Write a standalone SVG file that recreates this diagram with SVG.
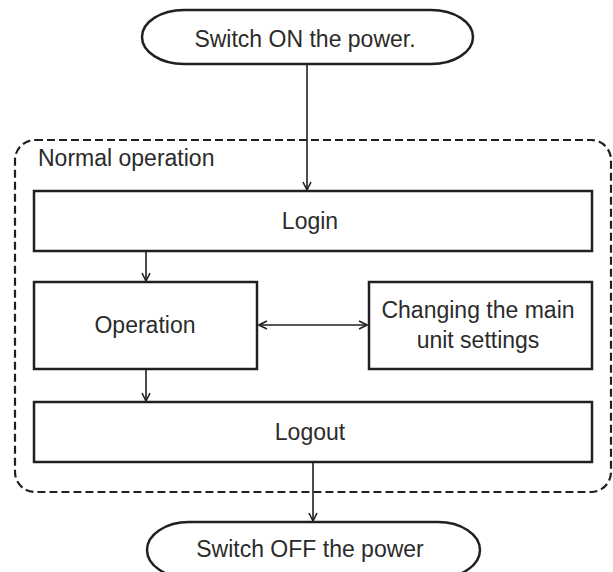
<svg xmlns="http://www.w3.org/2000/svg" width="613" height="572" viewBox="0 0 613 572">
<style>
.box{fill:#fff;stroke:#231f20;stroke-width:2.5}
.term{fill:#fff;stroke:#231f20;stroke-width:2.5}
.grp{fill:none;stroke:#231f20;stroke-width:2.2;stroke-dasharray:8 4}
.lbl{font-family:"Liberation Sans",Arial,sans-serif;font-size:23px;fill:#2b2b2b;text-anchor:middle}
.conn{stroke:#231f20;stroke-width:1.6;fill:none}
</style>
<defs>
<marker id="ah" viewBox="0 0 10 10" refX="9" refY="5" markerWidth="10" markerHeight="10" markerUnits="userSpaceOnUse" orient="auto-start-reverse">
<path d="M1,1 L9,5 L1,9" fill="none" stroke="#231f20" stroke-width="1.6"/>
</marker>
</defs>
<g id="normal-operation">
<rect class="grp" x="15" y="140" width="596" height="352" rx="20" ry="20"/>
<text class="lbl" x="38" y="166" style="text-anchor:start">Normal operation</text>
</g>
<g id="connectors">
<line class="conn" x1="307" y1="64" x2="307" y2="190" marker-end="url(#ah)"/>
<line class="conn" x1="146" y1="252" x2="146" y2="281" marker-end="url(#ah)"/>
<line class="conn" x1="259" y1="325" x2="367" y2="325" marker-start="url(#ah)" marker-end="url(#ah)"/>
<line class="conn" x1="146" y1="370" x2="146" y2="401" marker-end="url(#ah)"/>
<line class="conn" x1="313" y1="463" x2="313" y2="521" marker-end="url(#ah)"/>
</g>
<g id="power-on">
<rect class="term" x="142" y="10" width="331" height="54" rx="42" ry="27"/>
<text class="lbl" x="305" y="47">Switch ON the power.</text>
</g>
<g id="login">
<rect class="box" x="34" y="191" width="558" height="60"/>
<text class="lbl" x="310" y="229">Login</text>
</g>
<g id="operation">
<rect class="box" x="34" y="282" width="223" height="87"/>
<text class="lbl" x="145" y="333">Operation</text>
</g>
<g id="main-unit-settings">
<rect class="box" x="369" y="282" width="223" height="87"/>
<text class="lbl" x="478" y="318">Changing the main</text>
<text class="lbl" x="478" y="348">unit settings</text>
</g>
<g id="logout">
<rect class="box" x="34" y="402" width="558" height="60"/>
<text class="lbl" x="310" y="440">Logout</text>
</g>
<g id="power-off">
<rect class="term" x="147" y="522" width="333" height="56" rx="42" ry="28"/>
<text class="lbl" x="310" y="557">Switch OFF the power</text>
</g>
</svg>
